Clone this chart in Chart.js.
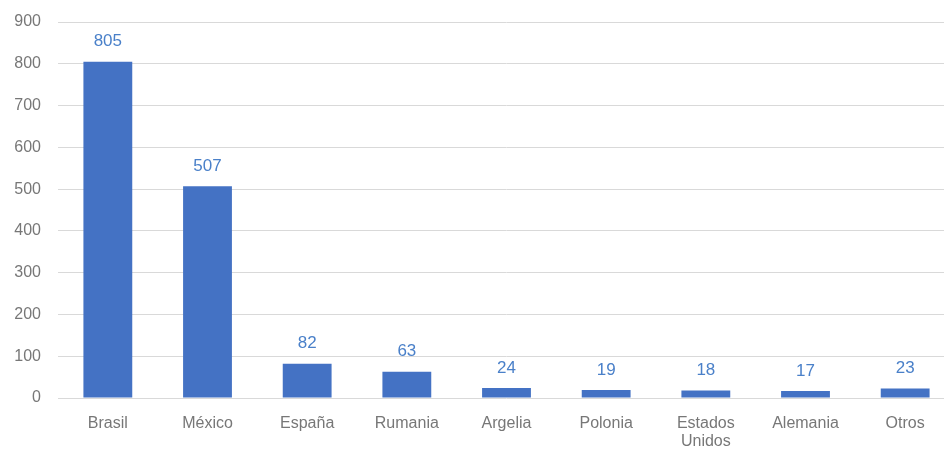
<!DOCTYPE html>
<html>
<head>
<meta charset="utf-8">
<script src="https://cdn.jsdelivr.net/npm/chart.js@4/dist/chart.umd.min.js"></script>
<style>
  html, body { margin: 0; padding: 0; background: #fff; overflow: hidden; }
  #wrap { width: 944px; height: 451px; overflow: hidden; }
</style>
</head>
<body>
<div id="wrap"><canvas id="chart" width="960" height="451"></canvas></div>
<script>
// Data
const categories = ["Brasil", "México", "España", "Rumania", "Argelia", "Polonia", ["Estados", "Unidos"], "Alemania", "Otros"];
const values = [805, 507, 82, 63, 24, 19, 18, 17, 23];
const yTicks = [0, 100, 200, 300, 400, 500, 600, 700, 800, 900];

const barColor = "#4472c4";
const labelColor = "#4a80c9";
const textColor = "#777777";
const fontFamily = "'Liberation Sans', Arial, sans-serif";

// draw value above each bar
const valueLabels = {
  id: "valueLabels",
  afterDatasetsDraw(chart) {
    const ctx = chart.ctx;
    const meta = chart.getDatasetMeta(0);
    ctx.save();
    ctx.font = "17px " + fontFamily;
    ctx.fillStyle = labelColor;
    ctx.textAlign = "center";
    ctx.textBaseline = "middle";
    meta.data.forEach((bar, i) => {
      ctx.fillText(values[i], bar.x, bar.y - 20);
    });
    ctx.restore();
  },
};

const ctx = document.getElementById("chart");

new Chart(ctx, {
  type: "bar",
  data: {
    labels: categories,
    datasets: [
      {
        data: values,
        backgroundColor: barColor,
        barPercentage: 0.49,
        categoryPercentage: 1,
      },
    ],
  },
  options: {
    responsive: false,
    animation: false,
    layout: { padding: { top: 22, right: 5, left: 0, bottom: 0 } },
    plugins: {
      legend: { display: false },
      tooltip: { enabled: false },
    },
    scales: {
      x: {
        grid: { display: false, drawTicks: false },
        border: { display: false },
        ticks: {
          color: textColor,
          font: { family: fontFamily, size: 16, lineHeight: 1.15 },
          padding: 16,
          maxRotation: 0,
          autoSkip: false,
        },
        afterFit: (scale) => { scale.height = 53; },
      },
      y: {
        min: 0,
        max: 900,
        afterBuildTicks: (scale) => { scale.ticks = yTicks.map((v) => ({ value: v })); },
        grid: { color: "#d9d9d9", drawTicks: false, lineWidth: 1 },
        border: { display: false },
        ticks: {
          color: textColor,
          font: { family: fontFamily, size: 16 },
          padding: 17,
        },
        afterFit: (scale) => {
          scale.width = 58;
          scale.paddingTop = 0;
          scale.paddingBottom = 0;
        },
      },
    },
  },
  plugins: [valueLabels],
});
</script>
</body>
</html>
